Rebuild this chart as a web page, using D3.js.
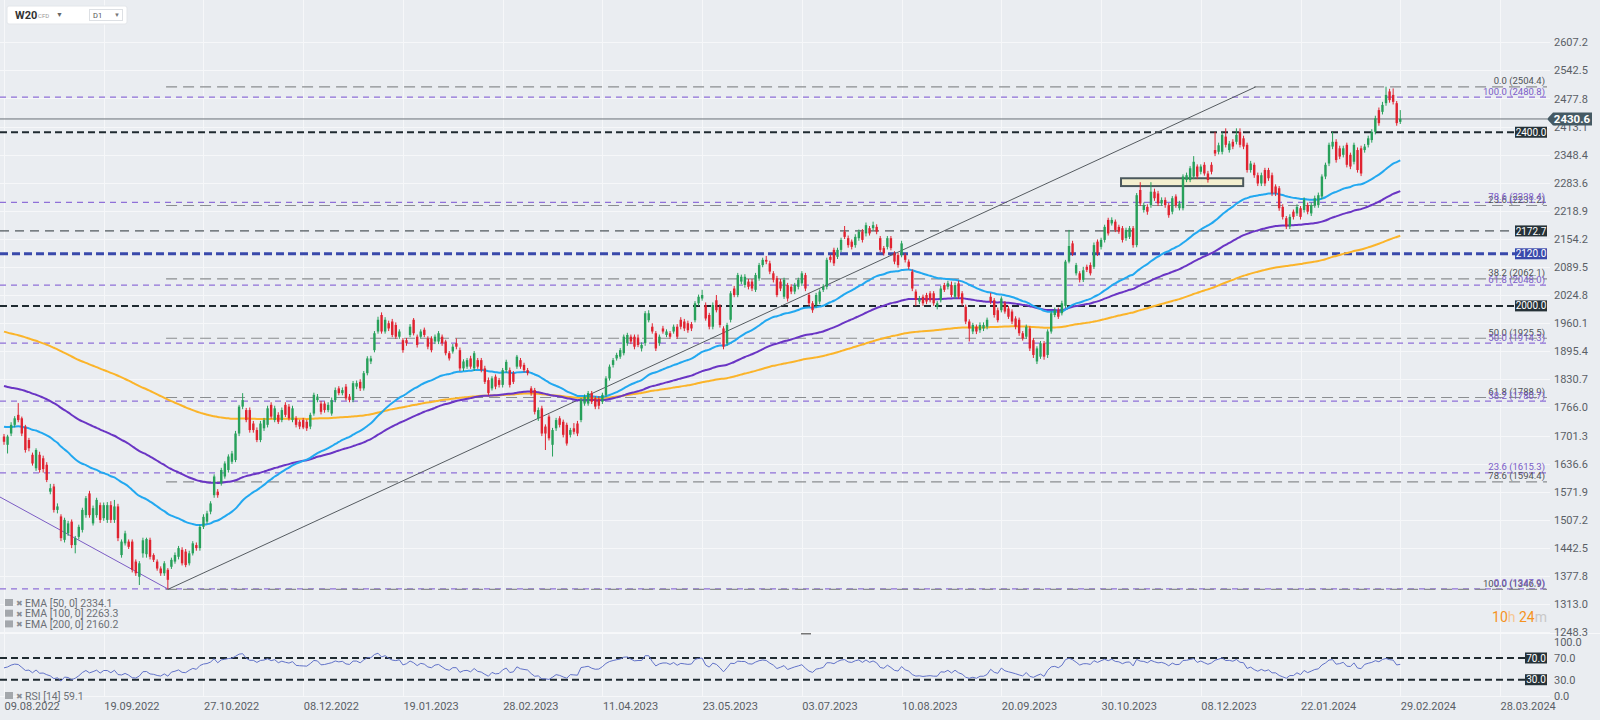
<!DOCTYPE html>
<html>
<head>
<meta charset="utf-8">
<script src="https://cdn.jsdelivr.net/npm/d3@7"></script>
<style>
  html, body { margin: 0; padding: 0; background: #eaedf1; }
  svg { display: block; font-family: Roboto, "Noto Sans", sans-serif; }
</style>
</head>
<body>
<div id="chart"></div>
<script>
'use strict';

// ---- data ----
const dateLabels = ['09.08.2022', '19.09.2022', '27.10.2022', '08.12.2022', '19.01.2023', '28.02.2023',
  '11.04.2023', '23.05.2023', '03.07.2023', '10.08.2023', '20.09.2023', '30.10.2023',
  '08.12.2023', '22.01.2024', '29.02.2024', '28.03.2024'];
const dateLabelBars = [0, 28, 56, 84, 112, 140, 168, 196, 224, 252, 280, 308, 336, 364, 392, 420];

const priceTicks = [1248.3, 1313.0, 1377.8, 1442.5, 1507.2, 1571.9, 1636.6, 1701.3, 1766.0, 1830.7,
  1895.4, 1960.1, 2024.8, 2089.5, 2154.2, 2218.9, 2283.6, 2348.4, 2413.1, 2477.8, 2542.5, 2607.2];
const rsiTicks = [0, 30, 70, 100];

// daily candles W20 (open, high, low, close)
const ohlc = [
  [1699,1705,1680,1687],[1680,1703,1660,1699],[1706,1732,1700,1726],[1726,1746,1720,1741],[1749,1776,1732,1737],
  [1741,1745,1700,1706],[1722,1726,1662,1668],[1691,1696,1665,1672],[1657,1662,1632,1637],[1626,1672,1620,1668],
  [1657,1664,1616,1622],[1649,1655,1616,1624],[1634,1640,1594,1599],[1572,1590,1566,1580],[1584,1590,1524,1530],
  [1530,1545,1522,1538],[1515,1520,1458,1465],[1461,1512,1455,1507],[1476,1505,1470,1499],[1503,1508,1442,1449],
  [1449,1470,1430,1465],[1468,1496,1462,1491],[1484,1535,1478,1530],[1518,1562,1512,1557],[1568,1574,1512,1518],
  [1499,1540,1494,1534],[1518,1558,1512,1553],[1541,1547,1500,1507],[1511,1547,1505,1541],[1507,1548,1500,1541],
  [1541,1550,1500,1507],[1507,1553,1500,1538],[1538,1544,1458,1465],[1426,1462,1420,1457],[1453,1482,1448,1476],
  [1457,1462,1440,1445],[1457,1462,1386,1392],[1411,1416,1378,1384],[1376,1412,1357,1407],[1430,1466,1420,1460],
  [1428,1466,1420,1463],[1461,1466,1416,1422],[1426,1430,1410,1415],[1411,1416,1390,1395],[1395,1400,1378,1384],
  [1384,1412,1378,1407],[1392,1396,1348,1369],[1399,1420,1394,1415],[1411,1432,1406,1426],[1422,1447,1416,1442],
  [1438,1444,1402,1407],[1434,1440,1398,1403],[1407,1436,1402,1430],[1430,1458,1425,1453],[1449,1455,1436,1442],
  [1442,1496,1436,1491],[1491,1520,1486,1514],[1503,1528,1498,1522],[1526,1550,1520,1545],[1564,1612,1558,1607],
  [1572,1578,1558,1564],[1591,1627,1586,1622],[1607,1642,1602,1637],[1622,1658,1616,1653],[1641,1666,1636,1660],
  [1645,1712,1640,1706],[1706,1772,1700,1768],[1768,1799,1762,1783],
  [1760,1765,1732,1737],[1760,1766,1708,1714],[1729,1735,1708,1714],[1714,1720,1686,1691],[1691,1735,1686,1729],
  [1718,1742,1712,1737],[1726,1770,1720,1764],[1772,1778,1740,1745],[1737,1770,1732,1764],[1749,1755,1728,1733],
  [1737,1766,1732,1760],[1772,1778,1744,1749],[1768,1774,1736,1741],[1737,1770,1732,1764],[1741,1746,1720,1726],
  [1733,1738,1716,1722],[1737,1742,1716,1720],[1733,1738,1712,1718],[1722,1754,1716,1749],[1752,1800,1747,1795],
  [1783,1797,1778,1791],[1775,1781,1750,1756],[1775,1780,1754,1760],[1760,1778,1755,1772],[1752,1789,1747,1783],
  [1783,1812,1778,1806],[1810,1815,1794,1799],[1799,1812,1794,1806],[1814,1820,1782,1787],[1791,1797,1778,1783],
  [1783,1827,1778,1822],[1814,1828,1808,1822],[1825,1831,1804,1810],[1810,1850,1805,1845],[1845,1884,1840,1879],
  [1872,1885,1866,1879],[1898,1942,1893,1937],[1941,1975,1936,1968],[1979,1985,1936,1941],[1941,1974,1936,1968],
  [1960,1966,1942,1948],[1964,1970,1928,1933],[1956,1962,1924,1929],[1929,1946,1924,1941],[1921,1926,1892,1898],
  [1921,1926,1908,1914],[1933,1958,1928,1952],[1968,1972,1932,1937],[1929,1934,1904,1910],[1929,1946,1924,1941],
  [1945,1950,1928,1933],[1925,1930,1900,1906],[1925,1930,1893,1898],[1918,1934,1912,1929],[1918,1942,1912,1937],
  [1929,1934,1908,1914],[1918,1922,1886,1891],[1891,1896,1874,1879],[1895,1912,1890,1906],[1914,1925,1900,1906],
  [1898,1904,1850,1856],[1856,1877,1850,1872],[1860,1880,1855,1875],[1879,1885,1855,1860],[1856,1896,1850,1891],
  [1875,1880,1855,1860],[1875,1880,1847,1852],[1856,1862,1820,1825],[1829,1835,1794,1799],[1810,1838,1805,1833],
  [1837,1842,1808,1814],[1829,1834,1812,1818],
  [1818,1857,1812,1852],[1852,1876,1846,1871],[1852,1858,1812,1818],[1845,1850,1820,1825],[1860,1887,1855,1883],
  [1875,1880,1855,1860],[1864,1869,1847,1852],[1852,1857,1840,1845],[1810,1815,1793,1799],[1806,1811,1750,1756],
  [1741,1766,1735,1760],[1764,1770,1700,1706],[1722,1727,1668,1706],[1745,1750,1690,1695],[1680,1719,1653,1714],
  [1718,1742,1712,1737],[1741,1746,1720,1726],[1733,1738,1697,1703],[1726,1731,1678,1683],[1703,1719,1697,1714],
  [1718,1730,1704,1710],[1729,1735,1700,1706],[1737,1788,1732,1783],[1775,1796,1770,1791],[1775,1804,1770,1799],
  [1799,1804,1774,1779],[1787,1792,1762,1768],[1785,1792,1762,1770],[1779,1800,1774,1795],[1795,1838,1790,1833],
  [1833,1865,1828,1860],[1864,1880,1858,1875],[1879,1892,1874,1887],[1883,1903,1878,1898],[1891,1934,1886,1929],
  [1914,1938,1908,1933],[1929,1934,1912,1918],[1929,1934,1900,1906],[1927,1934,1905,1910],[1902,1916,1895,1910],
  [1914,1988,1908,1983],[1967,1990,1962,1983],[1952,1960,1936,1941],[1937,1942,1896,1902],[1914,1934,1908,1929],
  [1948,1954,1936,1941],[1933,1946,1928,1941],[1937,1942,1924,1929],[1941,1957,1936,1952],[1952,1958,1924,1929],
  [1968,1974,1946,1952],[1964,1970,1942,1948],[1960,1966,1938,1944],[1958,1963,1942,1948],[1967,2011,1962,2006],
  [2006,2026,2000,2021],[2017,2037,2012,2025],[2002,2008,1966,1971],[1979,1984,1946,1952],[1952,2008,1946,2002],
  [2013,2025,1985,1990],[1998,2004,1950,1956],[1948,1953,1900,1906],[1914,1961,1908,1956],[1968,2034,1962,2029],
  [2040,2046,2020,2025],[2025,2076,2020,2071],[2056,2072,2050,2067],[2048,2073,2042,2067],[2056,2062,2038,2044],
  [2056,2062,2034,2040],[2037,2076,2032,2071],[2063,2099,2058,2094],[2094,2111,2089,2106],[2106,2115,2096,2102],
  [2098,2104,2073,2079],[2075,2080,2054,2060],[2064,2069,2020,2025],[2056,2062,2034,2040],[2021,2065,2016,2060],
  [2048,2053,2010,2017],[2044,2050,2027,2033],[2033,2053,2027,2048],[2044,2065,2038,2060],[2052,2080,2046,2075],
  [2071,2076,2034,2040],[2025,2030,2000,2006],
  [2006,2011,1984,1990],[2002,2030,1996,2025],[2010,2038,2004,2033],[2037,2050,2032,2044],[2044,2111,2038,2106],
  [2113,2118,2100,2106],[2129,2134,2092,2098],[2113,2134,2108,2129],[2129,2157,2124,2152],[2171,2184,2154,2159],
  [2156,2162,2134,2140],[2148,2153,2130,2136],[2140,2165,2134,2159],[2156,2176,2150,2171],[2171,2177,2146,2152],
  [2167,2192,2160,2186],[2179,2184,2162,2167],[2179,2194,2174,2186],[2182,2188,2165,2171],[2156,2161,2124,2129],
  [2133,2138,2116,2121],[2136,2161,2130,2156],[2156,2161,2128,2133],[2121,2126,2096,2102],[2117,2122,2088,2094],
  [2117,2150,2112,2144],[2117,2122,2100,2106],[2102,2107,2084,2090],[2079,2084,2034,2040],[2033,2038,2000,2014],
  [2010,2023,2004,2017],[2021,2026,2000,2006],[2025,2030,2004,2010],[2029,2034,2008,2013],[2029,2034,2000,2006],
  [1998,2011,1992,2006],[2013,2046,2008,2040],[2048,2053,2032,2037],[2044,2058,2038,2052],[2048,2056,2020,2025],
  [2021,2054,2016,2048],[2052,2058,2016,2021],[2029,2034,2000,2006],[1998,2003,1958,1964],[1964,1969,1918,1948],
  [1941,1961,1935,1956],[1952,1957,1935,1941],[1944,1962,1938,1956],[1948,1962,1942,1956],[1952,1973,1946,1968],
  [2021,2030,2004,2010],[2013,2018,1973,1979],[1990,1996,1962,1967],[1990,2022,1985,2017],[2006,2011,1982,1987],
  [1994,2000,1970,1975],[1987,1992,1958,1964],[1971,1976,1946,1952],[1968,1973,1931,1937],[1937,1942,1920,1925],
  [1929,1957,1924,1952],[1948,1953,1896,1902],[1921,1926,1880,1887],[1872,1907,1866,1902],[1883,1919,1878,1914],
  [1914,1919,1876,1883],[1887,1946,1880,1941],[1941,1988,1936,1983],[1979,1996,1974,1990],[1990,1996,1970,1975],
  [1983,2012,1978,2006],
  [2000,2106,1995,2102],[2102,2175,2098,2138],[2144,2150,2115,2121],[2075,2099,2070,2094],[2075,2080,2054,2060],
  [2060,2090,2055,2082],[2090,2095,2078,2083],[2094,2100,2070,2075],[2090,2146,2085,2140],[2148,2153,2115,2121],
  [2136,2157,2130,2152],[2152,2187,2146,2182],[2198,2203,2162,2167],[2190,2204,2185,2198],[2194,2199,2170,2175],
  [2182,2187,2166,2171],[2179,2184,2146,2152],[2156,2180,2150,2175],[2159,2184,2154,2179],[2179,2184,2134,2140],
  [2140,2260,2135,2255],[2267,2285,2230,2236],[2221,2238,2215,2232],[2228,2234,2210,2217],[2232,2285,2226,2263],
  [2263,2270,2242,2248],[2259,2265,2230,2236],[2236,2250,2230,2244],
  [2244,2250,2226,2232],[2232,2237,2203,2209],[2217,2253,2211,2248],[2252,2257,2226,2232],[2225,2242,2220,2236],
  [2225,2303,2220,2298],[2290,2307,2285,2301],[2290,2322,2285,2317],[2298,2345,2292,2332],[2321,2326,2292,2298],
  [2309,2326,2303,2321],[2325,2331,2300,2305],[2305,2311,2284,2290],[2325,2331,2303,2309],[2359,2401,2345,2351],
  [2355,2376,2349,2370],[2355,2400,2349,2394],[2390,2409,2365,2371],[2359,2380,2353,2374],[2378,2384,2361,2367],
  [2378,2409,2372,2394],[2401,2409,2365,2371],[2386,2392,2361,2367],[2371,2376,2307,2313],[2313,2334,2307,2328],
  [2325,2330,2295,2301],[2301,2307,2276,2282],[2282,2307,2276,2301],[2313,2318,2276,2282],[2313,2318,2288,2294],
  [2301,2307,2253,2259],[2275,2280,2253,2259],[2271,2276,2219,2225],[2228,2234,2199,2205],[2202,2207,2177,2183],
  [2183,2211,2177,2205],[2217,2222,2199,2205],[2213,2234,2207,2228],[2225,2230,2199,2205],[2221,2250,2215,2244],
  [2232,2238,2211,2217],[2213,2238,2207,2232],[2232,2254,2226,2248],[2232,2261,2226,2255],[2252,2303,2246,2298],
  [2298,2330,2292,2325],[2328,2376,2322,2371],[2367,2401,2361,2378],[2378,2384,2330,2336],[2363,2369,2338,2344],
  [2348,2369,2342,2363],[2371,2376,2319,2325],[2348,2353,2315,2321],[2332,2376,2326,2371],[2359,2365,2307,2313],
  [2363,2369,2299,2305],[2359,2373,2353,2367],[2371,2392,2365,2386],[2382,2407,2376,2401],[2401,2438,2395,2432],
  [2451,2457,2415,2421],[2447,2470,2441,2463],[2467,2505,2461,2486],[2494,2500,2468,2474],[2486,2501,2464,2470],
  [2467,2472,2415,2421],[2424,2451,2419,2431]
];

// moving averages: periods, value at the first visible bar, legend values
const emaPeriods = [50, 100, 200];
const emaStartValues = [1721.8, 1815.5, 1940.8];
const emaLegendValues = [2334.1, 2263.3, 2160.2];
const rsiPeriod = 14;
const rsiLegendValue = 59.1;

// horizontal levels
const lastPrice = 2430.6;
const levelValues = [2400.0, 2172.7, 2120.0, 2000.0];
const levelKinds = ['black', 'thin', 'blue', 'black'];
const rsiLevels = [70, 30];

// fibonacci retracements
const fibRatios = [0, 23.6, 38.2, 50, 61.8, 78.6, 100];
const fibGrayValues = [2504.4, 2231.2, 2062.1, 1925.5, 1788.9, 1594.4, 1346.9];
const fibPurpleValues = [1347.9, 1615.3, 1780.7, 1914.3, 2048.0, 2238.4, 2480.8];
const fibGrayStartBar = 45.5;

// drawings (bar index, price)
const trendDown = [[-1.2, 1560], [46, 1347.9]];
const trendUp = [[46, 1346.9], [351.4, 2504.4]];
const zoneBars = [313.6, 347.9];
const zonePrices = [2276, 2294];

// ---- layout ----
const width = 1600, height = 720;
const plotRight = 1547;
const col = {
  bg: '#eaedf1', grid: '#f6f7f9', up: '#27a05a', down: '#e02330',
  ema: ['#22a8f0', '#6a35c4', '#fbb42a'], rsi: '#6172c8', text: '#5a5f66',
  dark: '#263238', blue: '#3949ab', fibGray: '#8a8d90', fibPurple: '#8f70d8'
};

const svg = d3.select('#chart').append('svg')
  .attr('width', width).attr('height', height);
svg.append('rect').attr('width', width).attr('height', height).attr('fill', col.bg);

const x = d3.scaleLinear().domain([0, 420]).range([4, 1500]);
const y = d3.scaleLinear().domain([1248.3, 2607.2]).range([632.2, 42.3]);
const yR = d3.scaleLinear().domain([0, 100]).range([696, 641.7]);

svg.append('clipPath').attr('id', 'mainClip')
  .append('rect').attr('x', 0).attr('y', 0).attr('width', plotRight).attr('height', 633);

// grid
const grid = svg.append('g');
grid.selectAll('.hg').data(priceTicks).join('line')
  .attr('x1', 0).attr('x2', 1550)
  .attr('y1', d => Math.round(y(d)) + 0.5).attr('y2', d => Math.round(y(d)) + 0.5)
  .attr('stroke', col.grid);
grid.selectAll('.vg').data(dateLabelBars).join('line')
  .attr('x1', d => Math.round(x(d)) + 0.5).attr('x2', d => Math.round(x(d)) + 0.5)
  .attr('y1', 0).attr('y2', 697)
  .attr('stroke', col.grid);
grid.append('line').attr('x1', 0).attr('x2', 1600).attr('y1', 633.5).attr('y2', 633.5)
  .attr('stroke', '#f7f8fa');
grid.append('line').attr('x1', 0).attr('x2', 1550).attr('y1', 696.5).attr('y2', 696.5)
  .attr('stroke', col.grid);
svg.append('rect').attr('x', 801).attr('y', 633).attr('width', 10).attr('height', 1.5).attr('fill', '#777');

const main = svg.append('g').attr('clip-path', 'url(#mainClip)');

// fibonacci levels
main.selectAll('.fibP').data(fibPurpleValues).join('line')
  .attr('x1', 0).attr('x2', plotRight)
  .attr('y1', d => y(d)).attr('y2', d => y(d))
  .attr('stroke', col.fibPurple).attr('stroke-width', 1.2).attr('stroke-dasharray', '6,5');
main.selectAll('.fibG').data(fibGrayValues).join('line')
  .attr('x1', x(fibGrayStartBar)).attr('x2', plotRight)
  .attr('y1', d => y(d)).attr('y2', d => y(d))
  .attr('stroke', col.fibGray).attr('stroke-width', 1.2).attr('stroke-dasharray', '11,6');

// horizontal levels
const levelStyle = {
  black: { stroke: '#1f2a30', w: 2, dash: '7,4' },
  thin: { stroke: '#2b3338', w: 1, dash: '9,6' },
  blue: { stroke: col.blue, w: 3, dash: '8,4' }
};
main.selectAll('.lvl').data(levelValues).join('line')
  .attr('x1', 0).attr('x2', 1515)
  .attr('y1', d => y(d)).attr('y2', d => y(d))
  .attr('stroke', (d, i) => levelStyle[levelKinds[i]].stroke)
  .attr('stroke-width', (d, i) => levelStyle[levelKinds[i]].w)
  .attr('stroke-dasharray', (d, i) => levelStyle[levelKinds[i]].dash);

// last price line
main.append('line').attr('x1', 0).attr('x2', plotRight)
  .attr('y1', y(lastPrice)).attr('y2', y(lastPrice))
  .attr('stroke', '#6b7178').attr('stroke-width', 1);

// zone rectangle
main.append('rect')
  .attr('x', x(zoneBars[0])).attr('width', x(zoneBars[1]) - x(zoneBars[0]))
  .attr('y', y(zonePrices[1])).attr('height', y(zonePrices[0]) - y(zonePrices[1]))
  .attr('fill', '#f3efcf').attr('stroke', '#4b585c').attr('stroke-width', 2);

// trend lines
const tl = d3.line().x(d => x(d[0])).y(d => y(d[1]));
main.append('path').attr('d', tl(trendDown)).attr('fill', 'none')
  .attr('stroke', '#7b5cc4').attr('stroke-width', 1);
main.append('path').attr('d', tl(trendUp)).attr('fill', 'none')
  .attr('stroke', '#555b60').attr('stroke-width', 1);

// EMAs computed from closes, starting from the value shown at the first bar
const closes = ohlc.map(d => d[3]);
function ema(values, n, start) {
  const k = 2 / (n + 1);
  let e = start;
  return values.map((v, i) => {
    if (i > 0) e = e + k * (v - e);
    return e;
  });
}
const emaLine = d3.line().x((d, i) => x(i)).y(d => y(d)).curve(d3.curveMonotoneX);
[2, 1, 0].forEach(j => {
  main.append('path')
    .attr('d', emaLine(ema(closes, emaPeriods[j], emaStartValues[j])))
    .attr('fill', 'none').attr('stroke', col.ema[j]).attr('stroke-width', 2);
});

// candles
const bw = 2.4;
const candles = main.append('g').selectAll('g').data(ohlc).join('g')
  .attr('fill', d => d[3] >= d[0] ? col.up : col.down)
  .attr('stroke', d => d[3] >= d[0] ? col.up : col.down);
candles.append('line')
  .attr('x1', (d, i) => x(i)).attr('x2', (d, i) => x(i))
  .attr('y1', d => y(d[1])).attr('y2', d => y(d[2]))
  .attr('stroke-width', 1);
candles.append('rect')
  .attr('x', (d, i) => x(i) - bw / 2).attr('width', bw)
  .attr('y', d => y(Math.max(d[0], d[3])))
  .attr('height', d => Math.max(1, Math.abs(y(d[0]) - y(d[3]))))
  .attr('stroke', 'none');

// fib labels
const fmt1 = d3.format('.1f');
svg.selectAll('.fibGL').data(fibGrayValues).join('text')
  .attr('x', 1545).attr('y', d => y(d) - 2.5)
  .attr('text-anchor', 'end').attr('font-size', 9.5).attr('fill', '#4f5357')
  .text((d, i) => fmt1(fibRatios[i]) + ' (' + fmt1(d) + ')');
svg.selectAll('.fibPL').data(fibPurpleValues).join('text')
  .attr('x', 1545).attr('y', d => y(d) - 2.5)
  .attr('text-anchor', 'end').attr('font-size', 9.5).attr('fill', '#7a5cc8')
  .text((d, i) => fmt1(fibRatios[i]) + ' (' + fmt1(d) + ')');

// price axis
const yAxis = svg.append('g').attr('transform', 'translate(1552,0)')
  .call(d3.axisRight(y).tickValues(priceTicks).tickFormat(fmt1).tickSize(0).tickPadding(2));
yAxis.select('.domain').remove();
yAxis.selectAll('text').attr('font-size', 11).attr('fill', col.text)
  .attr('font-family', 'Roboto, sans-serif');

// level boxes
const lvlBox = svg.append('g').selectAll('g').data(levelValues).join('g')
  .attr('transform', d => `translate(1515,${y(d)})`);
lvlBox.append('rect').attr('x', 0).attr('y', -5.5).attr('width', 32).attr('height', 11)
  .attr('fill', (d, i) => levelKinds[i] === 'blue' ? col.blue : col.dark);
lvlBox.append('text').attr('x', 16).attr('y', 3.6).attr('text-anchor', 'middle')
  .attr('font-size', 10).attr('fill', '#fff').text(d => fmt1(d));

// last price tag
const yl = y(lastPrice);
svg.append('path')
  .attr('d', `M${plotRight},${yl} L${plotRight + 6},${yl - 6.5} L1592,${yl - 6.5} L1592,${yl + 6.5} L${plotRight + 6},${yl + 6.5} Z`)
  .attr('fill', '#455a64');
svg.append('text').attr('x', 1572).attr('y', yl + 4).attr('text-anchor', 'middle')
  .attr('font-size', 11.5).attr('font-weight', 'bold').attr('fill', '#fff').text(fmt1(lastPrice));

// countdown
const cd = svg.append('text').attr('x', 1547).attr('y', 622).attr('text-anchor', 'end')
  .attr('font-size', 14);
cd.append('tspan').attr('fill', '#f5931f').text('10');
cd.append('tspan').attr('fill', '#f6c793').text('h ');
cd.append('tspan').attr('fill', '#f5931f').text('24');
cd.append('tspan').attr('fill', '#c8c8c8').text('m');

// RSI panel
function rsi(values, n) {
  let g = 14, l = 13;
  return values.map((v, i) => {
    if (i > 0) {
      const d = v - values[i - 1];
      g = (g * (n - 1) + Math.max(d, 0)) / n;
      l = (l * (n - 1) + Math.max(-d, 0)) / n;
    }
    return 100 - 100 / (1 + g / l);
  });
}
svg.selectAll('.rl').data(rsiLevels).join('line')
  .attr('x1', 0).attr('x2', 1525)
  .attr('y1', d => yR(d)).attr('y2', d => yR(d))
  .attr('stroke', '#1f2a30').attr('stroke-width', 2).attr('stroke-dasharray', '7,4');
svg.append('path')
  .attr('d', d3.line().x((d, i) => x(i)).y(d => yR(d))(rsi(closes, rsiPeriod)))
  .attr('fill', 'none').attr('stroke', col.rsi).attr('stroke-width', 1);
const rBox = svg.append('g').selectAll('g').data(rsiLevels).join('g')
  .attr('transform', d => `translate(1525,${yR(d)})`);
rBox.append('rect').attr('y', -5.5).attr('width', 22).attr('height', 11).attr('fill', col.dark);
rBox.append('text').attr('x', 11).attr('y', 3.6).attr('text-anchor', 'middle')
  .attr('font-size', 10).attr('fill', '#fff').text(d => fmt1(d));
const rAxis = svg.append('g').attr('transform', 'translate(1552,0)')
  .call(d3.axisRight(yR).tickValues(rsiTicks).tickFormat(fmt1).tickSize(0).tickPadding(2));
rAxis.select('.domain').remove();
rAxis.selectAll('text').attr('font-size', 11).attr('fill', col.text)
  .attr('font-family', 'Roboto, sans-serif');

// date axis
const xAxis = svg.append('g').attr('transform', 'translate(0,700)')
  .call(d3.axisBottom(x).tickValues(dateLabelBars)
    .tickFormat((d, i) => dateLabels[i]).tickSize(0).tickPadding(0));
xAxis.select('.domain').remove();
xAxis.selectAll('text').attr('text-anchor', 'start').attr('dx', 0).attr('dy', '0.9em')
  .attr('font-size', 11).attr('fill', col.text).attr('font-family', 'Roboto, sans-serif');

// legends
function legendRow(yy, label) {
  const g = svg.append('g').attr('transform', `translate(5,${yy})`);
  g.append('rect').attr('x', 0).attr('y', -7.5).attr('width', 8).attr('height', 7).attr('fill', '#a3a7ac');
  g.append('text').attr('x', 10.5).attr('y', -0.5).attr('font-size', 8).attr('fill', '#8a8e93').text('✖');
  g.append('text').attr('x', 20).attr('y', 0).attr('font-size', 10.5).attr('fill', '#6c7076').text(label);
}
emaPeriods.forEach((p, i) => legendRow(606.5 + i * 10.7, `EMA [${p}, 0] ${fmt1(emaLegendValues[i])}`));
legendRow(699.5, `RSI [${rsiPeriod}] ${fmt1(rsiLegendValue)}`);

// header
const hdr = svg.append('g');
hdr.append('rect').attr('x', 7).attr('y', 6).attr('width', 120).attr('height', 18).attr('rx', 2)
  .attr('fill', '#fff').attr('stroke', '#e3e6ea');
hdr.append('text').attr('x', 15).attr('y', 19).attr('font-size', 11).attr('font-weight', 'bold')
  .attr('fill', '#333').text('W20');
hdr.append('text').attr('x', 38).attr('y', 18).attr('font-size', 6).attr('fill', '#999').text('CFD');
hdr.append('text').attr('x', 56).attr('y', 17).attr('font-size', 7).attr('fill', '#666').text('▼');
hdr.append('rect').attr('x', 89.5).attr('y', 9.5).attr('width', 33).attr('height', 11)
  .attr('fill', '#fff').attr('stroke', '#dde0e4');
hdr.append('text').attr('x', 93).attr('y', 18).attr('font-size', 7.5).attr('fill', '#555').text('D1');
hdr.append('text').attr('x', 114).attr('y', 17).attr('font-size', 6).attr('fill', '#777').text('▼');
</script>
</body>
</html>
